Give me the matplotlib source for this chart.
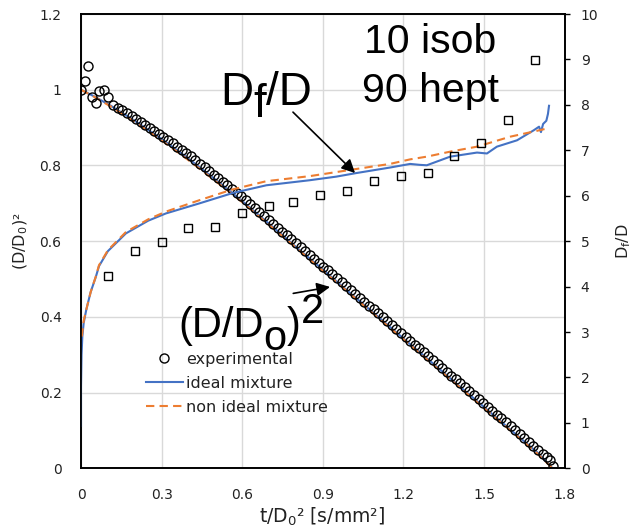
import matplotlib
matplotlib.use("Agg")
import matplotlib.pyplot as plt
from matplotlib.lines import Line2D

# ---------------- data ----------------
# experimental (D/D0)^2 (circles)
exp_t = [0.0, 0.015, 0.027, 0.04, 0.057, 0.067, 0.086, 0.10,
         0.120, 0.137, 0.154, 0.171, 0.188, 0.205, 0.222, 0.239, 0.256, 0.273,
         0.290, 0.307, 0.324, 0.341, 0.358, 0.375, 0.392, 0.409, 0.426, 0.443,
         0.460, 0.477, 0.494, 0.511, 0.528, 0.545, 0.562, 0.579, 0.596, 0.613,
         0.630, 0.647, 0.664, 0.681, 0.698, 0.715, 0.732, 0.749, 0.766, 0.783,
         0.800, 0.817, 0.834, 0.851, 0.868, 0.885, 0.902, 0.919, 0.936, 0.953,
         0.970, 0.987, 1.004, 1.021, 1.038, 1.055, 1.072, 1.089, 1.106, 1.123,
         1.140, 1.157, 1.174, 1.191, 1.208, 1.225, 1.242, 1.259, 1.276, 1.293,
         1.310, 1.327, 1.344, 1.361, 1.378, 1.395, 1.412, 1.429, 1.446, 1.463,
         1.480, 1.497, 1.514, 1.531, 1.548, 1.565, 1.582, 1.599, 1.616, 1.633,
         1.650, 1.667, 1.684, 1.701, 1.718, 1.735, 1.745, 1.757]
exp_d2 = [1.000, 1.023, 1.063, 0.980, 0.964, 0.997, 1.000, 0.980,
          0.960, 0.953, 0.946, 0.938, 0.931, 0.923, 0.915, 0.908, 0.900, 0.892,
          0.884, 0.876, 0.867, 0.859, 0.850, 0.842, 0.833, 0.824, 0.814, 0.805,
          0.795, 0.786, 0.776, 0.766, 0.757, 0.747, 0.738, 0.728, 0.718, 0.708,
          0.697, 0.687, 0.677, 0.667, 0.656, 0.646, 0.636, 0.625, 0.615, 0.605,
          0.595, 0.584, 0.574, 0.564, 0.553, 0.543, 0.533, 0.523, 0.512, 0.502,
          0.492, 0.481, 0.471, 0.461, 0.451, 0.440, 0.430, 0.420, 0.409, 0.399,
          0.389, 0.379, 0.368, 0.358, 0.348, 0.337, 0.327, 0.317, 0.307, 0.296,
          0.286, 0.276, 0.265, 0.255, 0.245, 0.235, 0.224, 0.214, 0.204, 0.193,
          0.183, 0.173, 0.163, 0.152, 0.142, 0.132, 0.121, 0.111, 0.101, 0.091,
          0.080, 0.070, 0.060, 0.049, 0.039, 0.029, 0.021, 0.005]

# model (D/D0)^2
d2_t = [0.0, 0.05, 0.11, 0.2, 0.3, 0.4, 0.5, 0.6, 0.7, 0.8, 0.9, 1.0,
        1.1, 1.2, 1.3, 1.4, 1.5, 1.6, 1.7, 1.755]
d2_ideal = [1.0, 0.982, 0.958, 0.918, 0.870, 0.818, 0.763, 0.706, 0.646,
            0.585, 0.525, 0.464, 0.404, 0.343, 0.283, 0.222, 0.162, 0.101,
            0.041, 0.0]
d2_nonideal = [1.0, 0.981, 0.956, 0.915, 0.866, 0.814, 0.759, 0.703, 0.643,
               0.583, 0.522, 0.462, 0.401, 0.341, 0.280, 0.220, 0.159, 0.099,
               0.038, 0.0]

# experimental Df/D (squares)
sq_t = [0.1, 0.2, 0.3, 0.4, 0.5, 0.6, 0.7, 0.79, 0.89, 0.99, 1.09, 1.19,
        1.29, 1.39, 1.49, 1.59, 1.69]
sq_df = [4.24, 4.79, 4.99, 5.29, 5.32, 5.62, 5.77, 5.87, 6.01, 6.10, 6.32,
         6.44, 6.51, 6.87, 7.15, 7.67, 8.99]

# model Df/D
dfi_t = [0.0, 0.0, 0.002, 0.005, 0.01, 0.02, 0.036, 0.055, 0.067, 0.1, 0.167,
         0.25, 0.316, 0.44, 0.565, 0.69, 0.85, 0.95, 1.026, 1.15, 1.225, 1.26,
         1.287, 1.374, 1.474, 1.511, 1.548, 1.623, 1.685, 1.705, 1.712, 1.72,
         1.732, 1.738, 1.742]
dfi = [0.93, 1.8, 2.5, 2.9, 3.2, 3.5, 3.88, 4.21, 4.45, 4.78, 5.17, 5.45,
       5.61, 5.83, 6.06, 6.23, 6.34, 6.42, 6.50, 6.62, 6.70, 6.68, 6.67,
       6.86, 6.95, 6.93, 7.08, 7.22, 7.44, 7.52, 7.40, 7.58, 7.65, 7.80, 7.98]
dfn_t = [0.003, 0.01, 0.02, 0.036, 0.055, 0.067, 0.1, 0.167, 0.25, 0.316,
         0.44, 0.565, 0.69, 0.85, 0.95, 1.026, 1.15, 1.225, 1.287, 1.374,
         1.474, 1.598, 1.698, 1.735]
dfn = [2.9, 3.25, 3.5, 3.88, 4.22, 4.47, 4.80, 5.20, 5.48, 5.65, 5.90, 6.14,
       6.32, 6.43, 6.52, 6.59, 6.70, 6.80, 6.86, 6.97, 7.08, 7.30, 7.43, 7.48]

x_ticks = [0, 0.3, 0.6, 0.9, 1.2, 1.5, 1.8]
x_ticklabels = ["0", "0.3", "0.6", "0.9", "1.2", "1.5", "1.8"]
y_ticks = [0, 0.2, 0.4, 0.6, 0.8, 1.0, 1.2]
y_ticklabels = ["0", "0.2", "0.4", "0.6", "0.8", "1", "1.2"]
y2_ticks = list(range(0, 11))
legend_labels = ["experimental", "ideal mixture", "non ideal mixture"]

BLUE = "#4472C4"
ORANGE = "#ED7D31"

plt.rcParams["font.family"] = ["DejaVu Sans"]
plt.rcParams["mathtext.fontset"] = "dejavusans"

W, H = 632, 531
fig = plt.figure(figsize=(W / 100, H / 100), dpi=100)
ax = fig.add_axes([81 / W, (H - 468.3) / H, 483.6 / W, 454.3 / H])
ax2 = ax.twinx()

ax.set_xlim(0, 1.8)
ax.set_ylim(0, 1.2)
ax2.set_ylim(0, 10)

ax.grid(True, color="#D9D9D9", lw=1.0)
ax.set_axisbelow(True)

ax.plot(d2_t, d2_ideal, color=BLUE, lw=1.5, zorder=2)
ax.plot(d2_t, d2_nonideal, color=ORANGE, lw=1.5, dashes=(4, 2.5), zorder=2)
ax.plot(exp_t, exp_d2, ls="none", marker="o", ms=6.5, mfc="none",
        mec="black", mew=1.0, zorder=3)

ax2.plot(dfi_t, dfi, color=BLUE, lw=1.5, zorder=2)
ax2.plot(dfn_t, dfn, color=ORANGE, lw=1.5, dashes=(4, 2.5), zorder=2)
ax2.plot(sq_t, sq_df, ls="none", marker="s", ms=6, mfc="none",
         mec="black", mew=1.0, zorder=3)

ax.set_xticks(x_ticks)
ax.set_xticklabels(x_ticklabels)
ax.set_yticks(y_ticks)
ax.set_yticklabels(y_ticklabels)
ax.tick_params(axis="both", length=0, labelsize=10, colors="#222222")
ax.tick_params(axis="x", pad=14)
ax.tick_params(axis="y", pad=14)
ax2.set_yticks(y2_ticks)
ax2.tick_params(axis="y", length=3.6, width=1.0, direction="out",
                pad=8, labelsize=10, colors="black", labelcolor="#222222")

for a in (ax, ax2):
    for s in a.spines.values():
        s.set_color("black")
        s.set_linewidth(1.2)

ax.set_ylabel("(D/D$_0$)²", fontsize=11.5, color="#222222")
ax.yaxis.label.set_va("center")
ax.yaxis.set_label_coords(-0.124, 0.5)
ax2.set_ylabel("D$_\\mathrm{f}$/D", fontsize=11.5, color="#222222",
               rotation=90)
ax2.yaxis.label.set_va("center")
ax2.yaxis.set_label_coords(1.122, 0.5)
ax.set_xlabel("t/D$_0$² [s/mm²]", fontsize=13.5, color="#222222")
ax.xaxis.label.set_va("center")
ax.xaxis.set_label_coords(0.498, -0.107)

handles = [
    Line2D([], [], ls="none", marker="o", ms=6.5, mfc="none", mec="black", mew=1.0),
    Line2D([], [], color=BLUE, lw=1.5),
    Line2D([], [], color=ORANGE, lw=1.5, dashes=(4, 2.5)),
]
leg = ax2.legend(handles, legend_labels, loc="center left",
                 bbox_to_anchor=(146 / W, (H - 383.3) / H),
                 bbox_transform=fig.transFigure, frameon=False,
                 fontsize=11.5, borderaxespad=0, borderpad=0,
                 handlelength=2.3, handletextpad=0.2, labelspacing=0.57)
for t in leg.get_texts():
    t.set_color("#222222")

# arrows
ax2.annotate("", xy=(1.020, 6.50), xytext=(0.789, 7.84),
             arrowprops=dict(arrowstyle="-|>", color="black", lw=1.2,
                             mutation_scale=20, shrinkA=0, shrinkB=0))
ax.annotate("", xy=(0.927, 0.479), xytext=(0.790, 0.462),
            arrowprops=dict(arrowstyle="-|>", color="black", lw=1.2,
                            mutation_scale=20, shrinkA=0, shrinkB=0))

# rich annotation texts
renderer = fig.canvas.get_renderer()


def rich_text(x_px, base_px, runs, size):
    x = x_px
    for s, dy in runs:
        t = fig.text(x / W, (H - base_px + dy) / H, s, fontsize=size,
                     family="Liberation Sans", ha="left", va="baseline",
                     color="black")
        x += t.get_window_extent(renderer).width


rich_text(220, 105, [("D", 0), ("f", -12), ("/D", 0)], 33)
rich_text(178, 337, [("(D/D", 0), ("o", -13), (")", 0), ("2", 14)], 30)
fig.text(364 / W, (H - 53) / H, "10 isob", fontsize=29.5,
         family="Liberation Sans", ha="left", va="baseline")
fig.text(362 / W, (H - 102) / H, "90 hept", fontsize=29.5,
         family="Liberation Sans", ha="left", va="baseline")

fig.savefig("out.png", dpi=100)
